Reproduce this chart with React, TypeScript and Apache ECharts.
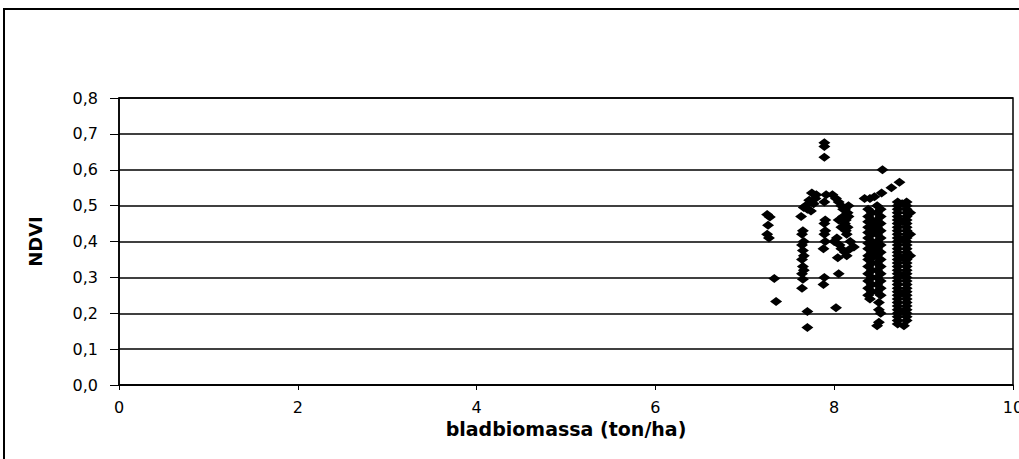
import React, { useEffect, useRef } from "react";
import * as echarts from "echarts";

const xTicks = [0, 2, 4, 6, 8, 10];
const yTicks = [0, 0.1, 0.2, 0.3, 0.4, 0.5, 0.6, 0.7, 0.8];

const groupA: number[][] = [[7.25,0.475],[7.28,0.468],[7.26,0.445],[7.25,0.42],[7.27,0.41],[7.33,0.297],[7.35,0.233]];
const groupB: number[][] = [[7.66,0.495],[7.63,0.47],[7.65,0.43],[7.64,0.42],[7.66,0.40],[7.64,0.39],[7.65,0.375],[7.66,0.36],[7.64,0.35],[7.65,0.33],[7.66,0.32],[7.64,0.31],[7.65,0.295],[7.64,0.27],[7.70,0.205],[7.70,0.16]];
const groupC: number[][] = [[7.75,0.535],[7.80,0.53],[7.72,0.515],[7.77,0.505],[7.70,0.49],[7.74,0.485],[7.79,0.52],[7.68,0.50]];
const groupD: number[][] = [[7.89,0.675],[7.89,0.665],[7.89,0.635],[7.91,0.53],[7.89,0.51],[7.90,0.46],[7.89,0.45],[7.90,0.43],[7.89,0.42],[7.90,0.40],[7.88,0.38],[7.89,0.30],[7.88,0.28]];
const groupE: number[][] = [[7.98,0.53],[8.02,0.52],[8.05,0.51],[8.08,0.50],[8.12,0.49],[8.15,0.48],[8.10,0.47],[8.13,0.46],[8.16,0.47],[8.12,0.45],[8.15,0.44],[8.13,0.43],[8.14,0.42],[8.08,0.44],[8.05,0.46],[8.10,0.49],[8.03,0.41],[8.06,0.39],[8.08,0.38],[8.12,0.37],[8.14,0.36],[8.18,0.38],[8.22,0.385],[8.18,0.40],[8.04,0.355],[8.05,0.31],[8.02,0.215],[8.0,0.40],[8.16,0.50]];
const groupF: number[][] = [
  [8.34,0.52],[8.40,0.52],[8.45,0.525],[8.53,0.535],[8.54,0.60],
  [8.38,0.49],[8.42,0.48],[8.38,0.47],[8.42,0.46],[8.38,0.455],[8.42,0.45],[8.38,0.44],[8.42,0.43],[8.38,0.425],[8.42,0.42],
  [8.38,0.41],[8.42,0.40],[8.38,0.395],[8.42,0.39],[8.38,0.38],[8.42,0.37],[8.38,0.36],[8.42,0.355],[8.38,0.35],[8.42,0.34],
  [8.38,0.33],[8.42,0.32],[8.38,0.31],[8.42,0.30],[8.38,0.29],[8.42,0.28],[8.38,0.27],[8.42,0.26],[8.38,0.25],[8.40,0.24],
  [8.48,0.50],[8.52,0.49],[8.48,0.48],[8.52,0.47],[8.48,0.46],[8.52,0.45],[8.48,0.44],[8.52,0.43],[8.48,0.42],[8.52,0.41],
  [8.48,0.40],[8.52,0.39],[8.48,0.38],[8.52,0.37],[8.48,0.36],[8.52,0.35],[8.48,0.34],[8.52,0.33],[8.48,0.32],[8.52,0.31],
  [8.48,0.30],[8.52,0.29],[8.48,0.28],[8.52,0.27],[8.48,0.26],[8.52,0.25],[8.50,0.23],[8.50,0.21],[8.52,0.20],[8.50,0.175],[8.48,0.165]
];
const groupG: number[][] = [
  [8.64,0.55],[8.73,0.565],
  [8.71,0.51],[8.71,0.50],[8.71,0.49],[8.71,0.48],[8.71,0.47],[8.71,0.46],[8.71,0.45],[8.71,0.44],[8.71,0.43],[8.71,0.42],
  [8.71,0.41],[8.71,0.40],[8.71,0.39],[8.71,0.38],[8.71,0.37],[8.71,0.36],[8.71,0.35],[8.71,0.34],[8.71,0.33],[8.71,0.32],
  [8.71,0.31],[8.71,0.30],[8.71,0.29],[8.71,0.28],[8.71,0.27],[8.71,0.26],[8.71,0.25],[8.71,0.24],[8.71,0.23],[8.71,0.22],
  [8.71,0.21],[8.71,0.20],[8.71,0.19],[8.71,0.18],[8.71,0.17],
  [8.81,0.51],[8.81,0.50],[8.81,0.49],[8.81,0.48],[8.81,0.47],[8.81,0.46],[8.81,0.45],[8.81,0.44],[8.81,0.43],[8.81,0.42],
  [8.81,0.41],[8.81,0.40],[8.81,0.39],[8.81,0.38],[8.81,0.37],[8.81,0.36],[8.81,0.35],[8.81,0.34],[8.81,0.33],[8.81,0.32],
  [8.81,0.31],[8.81,0.30],[8.81,0.29],[8.81,0.28],[8.81,0.27],[8.81,0.26],[8.81,0.25],[8.81,0.24],[8.81,0.23],[8.81,0.22],
  [8.81,0.21],[8.81,0.20],[8.81,0.19],[8.81,0.18],[8.78,0.165],
  [8.76,0.505],[8.76,0.455],[8.76,0.405],[8.76,0.355],[8.76,0.305],[8.76,0.255],[8.76,0.205],[8.85,0.48],[8.85,0.42],[8.85,0.36]
];

const fmt = (v: number) => v.toFixed(1).replace(".", ",");

export default function App() {
  const ref = useRef<HTMLDivElement>(null);
  useEffect(() => {
    if (!ref.current) return;
    const chart = echarts.init(ref.current, undefined, { renderer: "svg" });
    const data = [...groupA, ...groupB, ...groupC, ...groupD, ...groupE, ...groupF, ...groupG];
    chart.setOption({
      animation: false,
      backgroundColor: "#fff",
      textStyle: { fontFamily: "DejaVu Sans, sans-serif" },
      graphic: [
        { type: "rect", shape: { x: 4, y: 9, width: 1040, height: 480 }, style: { fill: "none", stroke: "#000", lineWidth: 2 }, silent: true }
      ],
      grid: {
        left: 119, top: 98, right: 6, bottom: 74, show: true, borderColor: "#000", borderWidth: 1.5,
        backgroundColor: "transparent", containLabel: false, outerBoundsMode: "none"
      },
      xAxis: {
        type: "value", min: xTicks[0], max: xTicks[xTicks.length - 1], interval: 2,
        name: "bladbiomassa (ton/ha)", nameLocation: "middle", nameGap: 34,
        nameTextStyle: { fontSize: 19, fontWeight: "bold", color: "#000", fontFamily: "DejaVu Sans" },
        axisLine: { show: true, lineStyle: { color: "#000", width: 1.5 } },
        axisTick: { show: true, length: 5, lineStyle: { color: "#000" } },
        axisLabel: { fontSize: 16, color: "#000", margin: 14, fontFamily: "DejaVu Sans" },
        splitLine: { show: false }
      },
      yAxis: {
        type: "value", min: yTicks[0], max: yTicks[yTicks.length - 1], interval: 0.1,
        name: "NDVI", nameLocation: "middle", nameGap: 75,
        nameTextStyle: { fontSize: 18, fontWeight: "bold", color: "#000", fontFamily: "DejaVu Sans" },
        axisLine: { show: true, lineStyle: { color: "#000", width: 1.5 } },
        axisTick: { show: true, length: 9, lineStyle: { color: "#000" } },
        axisLabel: { fontSize: 16, color: "#000", margin: 21, formatter: fmt, fontFamily: "DejaVu Sans" },
        splitLine: { show: true, lineStyle: { color: "#000", width: 1.5 } }
      },
      series: [{
        type: "scatter", data, symbol: "diamond", symbolSize: [12, 9],
        itemStyle: { color: "#000", opacity: 1 }
      }]
    });
    return () => chart.dispose();
  }, []);
  return <div ref={ref} style={{ position: "fixed", left: 0, top: 0, width: 1019, height: 459 }} />;
}
